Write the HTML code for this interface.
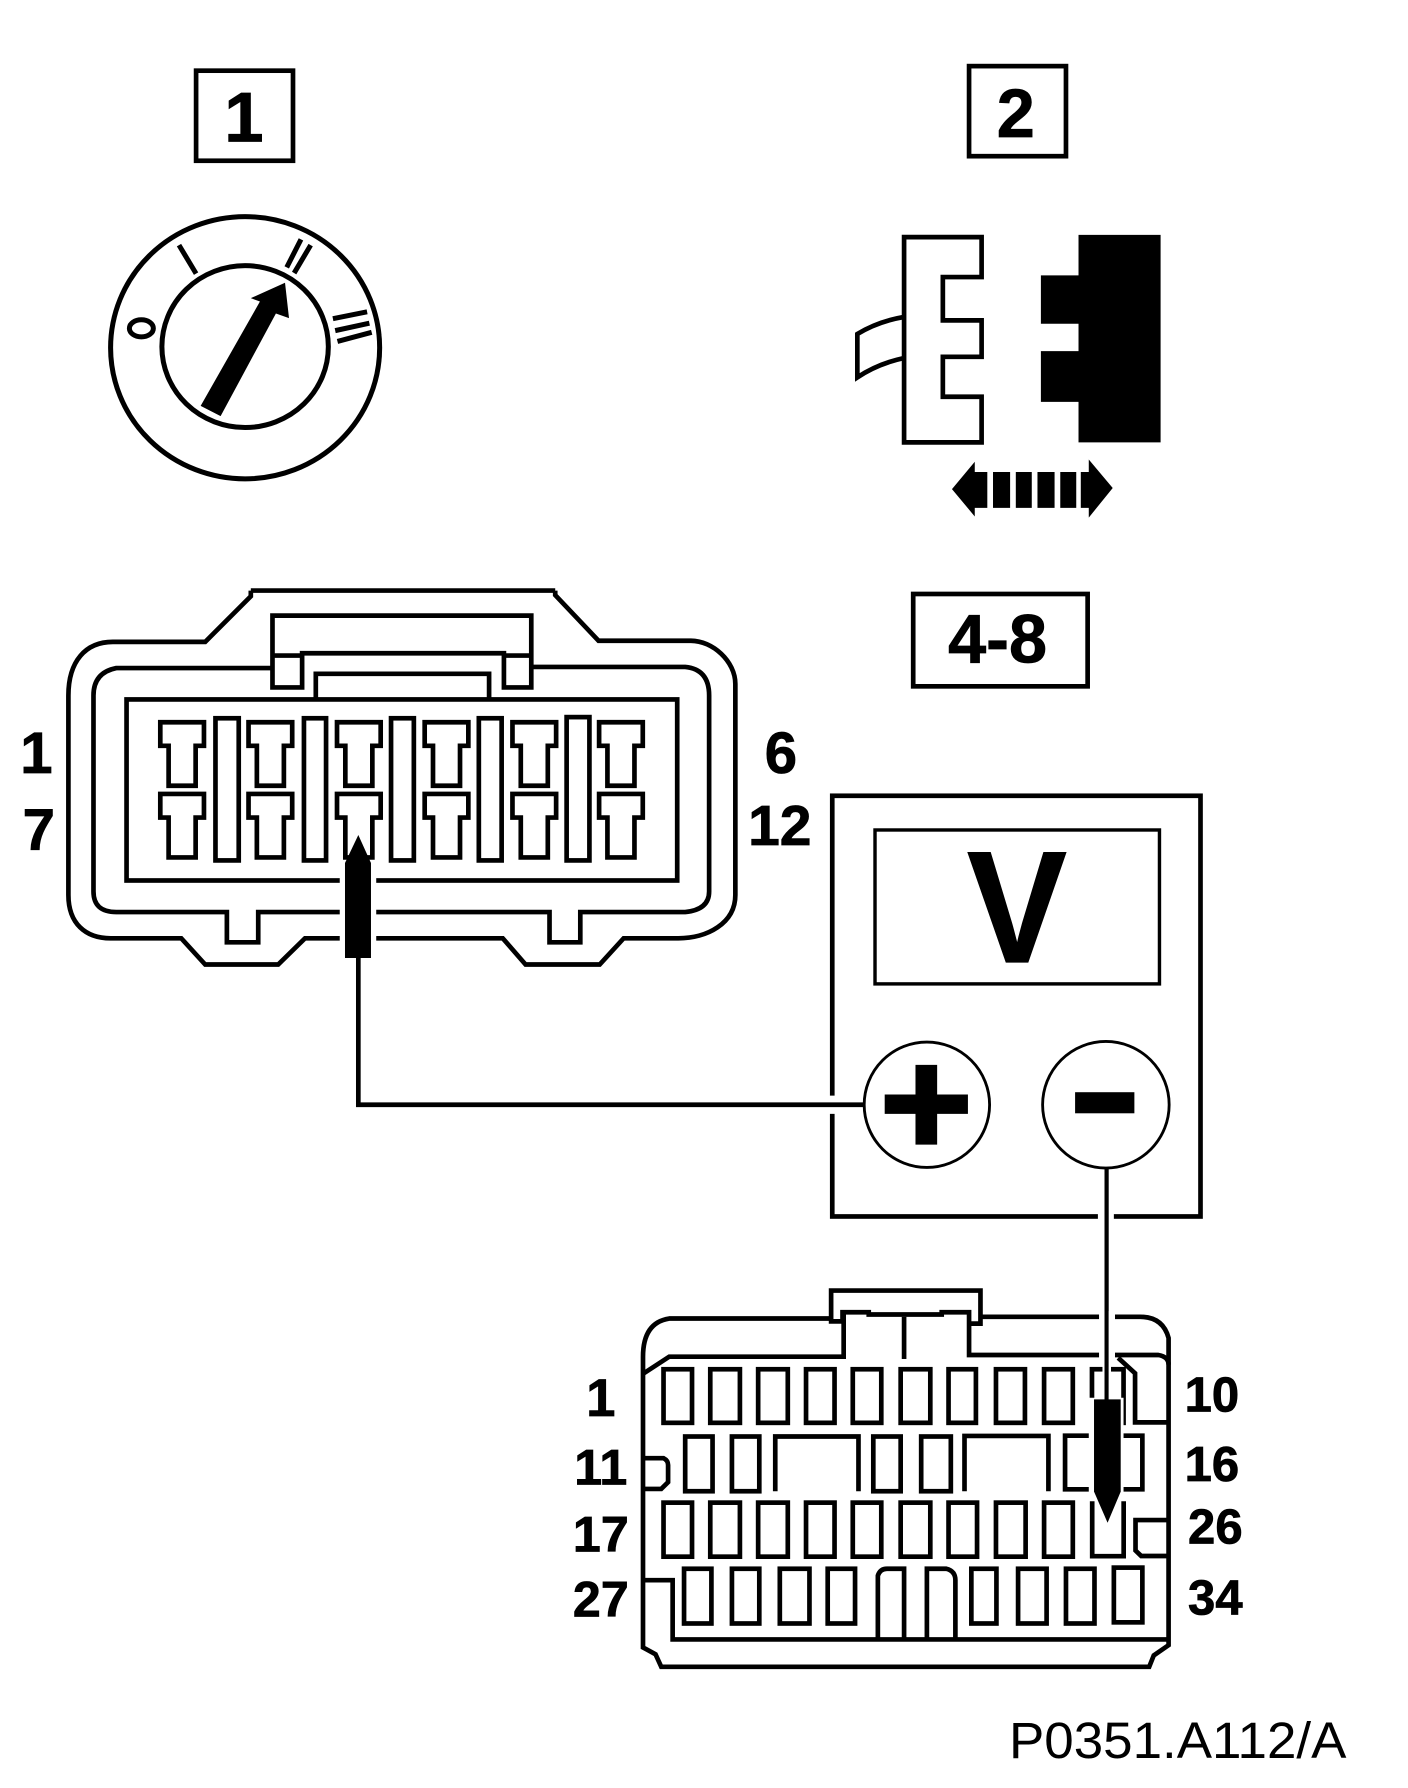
<!DOCTYPE html>
<html>
<head>
<meta charset="utf-8">
<title>P0351.A112/A</title>
<style>
html,body{margin:0;padding:0;background:#fff;width:1408px;height:1788px;overflow:hidden}
svg{display:block}
text{font-family:"Liberation Sans",sans-serif;font-weight:bold;fill:#000;stroke:#000;stroke-width:.7;text-anchor:middle}
.s{fill:none;stroke:#000;stroke-width:4.1;stroke-linejoin:miter}
.d{fill:none;stroke:#000;stroke-width:4.4}
</style>
</head>
<body>
<svg width="1408" height="1788" viewBox="0 0 1235 1568.3" xmlns="http://www.w3.org/2000/svg" preserveAspectRatio="none">
<defs>
<path id="T" d="M0,0H38.3V20.7H31V55.7H7.3V20.7H0Z" fill="none" stroke="#000" stroke-width="4.1"/>
</defs>
<rect width="1240" height="1575" fill="#fff"/>

<!-- Box 1 -->
<rect x="172" y="62" width="85" height="79" class="s"/>
<text x="214" y="124" font-size="62">1</text>

<!-- Dial -->
<ellipse cx="215" cy="305" rx="118" ry="115" class="d"/>
<ellipse cx="215" cy="304" rx="73" ry="71" class="d"/>
<polygon points="250,248 253.5,279 242,275 193.5,365 176,356 228,264.5 220,261.5" fill="#000"/>
<ellipse cx="124" cy="288" rx="10.5" ry="7.5" class="d"/>
<path d="M157,215L172,240M264,210L251.5,234.5M272.5,215L258,239.5M292,279.5L322,273.5M294,290L324,283.5M296,299.5L326,291.5" class="d"/>

<!-- Box 2 -->
<rect x="850" y="58" width="85" height="79" class="s"/>
<text x="891" y="120" font-size="60">2</text>

<!-- Plug pair -->
<path d="M793,208H861V243H827V281H861V313H827V348H861V388H793Z" class="s"/>
<path d="M793,278Q770,282 752,293V331Q770,319 793,314" class="s"/>
<path d="M946,206H1018V388H946V352.5H913V308H946V284H913V241.5H946Z" fill="#000"/>
<path d="M835,429L855,405V414H866V445.5H855V453Z M871,414H886V445.5H871Z M891,414H905V445.5H891Z M910,414H925V445.5H910Z M930,414H944V445.5H930Z M948,414H955V403L976,428L955,454V445.5H948Z" fill="#000"/>

<!-- Box 4-8 -->
<rect x="801" y="521" width="153" height="81" class="s"/>
<text x="875" y="581" font-size="60">4-8</text>

<!-- Connector 1 -->
<path d="M220,518H487M220,518V523L180,563H99C75,563 60,580 60,610V785C60,810 75,823 97,823H159L180,846H244L267.5,823H441L461,846H526L547,823H595C620,823 645,810 645,785V600C645,580 625,562 606,562H525L487,522V518" class="s"/>
<path d="M239,586H102Q82,590 82,610V782Q82,800 102,800H199V826.5H226.5V800H482V826.5H509V800H601Q622,798 622,782V610Q622,587 601,585H466" class="s"/>
<path d="M239,603V540H466V603H442V573H265V603ZM239,575H265M442,575H466" class="s"/>
<path d="M277,612V591H429V612" class="s"/>
<rect x="111" y="613.5" width="483" height="158.8" class="s"/>
<use href="#T" x="140.6" y="633.5"/><use href="#T" x="218" y="633.5"/><use href="#T" x="295.6" y="633.5"/><use href="#T" x="372.5" y="633.5"/><use href="#T" x="449.5" y="633.5"/><use href="#T" x="525.5" y="633.5"/>
<use href="#T" x="140.6" y="696.4"/><use href="#T" x="218" y="696.4"/><use href="#T" x="295.6" y="696.4"/><use href="#T" x="372.5" y="696.4"/><use href="#T" x="449.5" y="696.4"/><use href="#T" x="525.5" y="696.4"/>
<rect x="189" y="630" width="20.4" height="124.7" class="s"/>
<rect x="266.6" y="630" width="19.4" height="124.7" class="s"/>
<rect x="343" y="630" width="20" height="124.7" class="s"/>
<rect x="420" y="630" width="20" height="124.7" class="s"/>
<rect x="497" y="629" width="20" height="125.7" class="s"/>
<rect x="298" y="762" width="32" height="80" fill="#fff"/>
<polygon points="314.3,732.4 325.4,757 325.4,840.3 302.6,840.3 302.6,757" fill="#000"/>

<text x="32" y="678" font-size="51">1</text>
<text x="34" y="745" font-size="51">7</text>
<text x="685" y="678" font-size="51">6</text>
<text x="684" y="741" font-size="50">12</text>

<!-- Multimeter -->
<rect x="730" y="698" width="323" height="369" class="s"/>
<rect x="767.5" y="728" width="249.5" height="135" fill="none" stroke="#000" stroke-width="3"/>
<text x="892" y="844" font-size="140" textLength="88" lengthAdjust="spacingAndGlyphs">V</text>
<rect x="724" y="961" width="14" height="16" fill="#fff"/>
<rect x="963" y="1060" width="14" height="14" fill="#fff"/>
<path d="M314.3,838V969H758" class="s"/>
<path d="M970.6,1024V1230" fill="none" stroke="#000" stroke-width="3.6"/>
<circle cx="813" cy="969" r="55" fill="#fff" stroke="#000" stroke-width="2.5"/>
<circle cx="970" cy="969" r="55.5" fill="#fff" stroke="#000" stroke-width="2.5"/>
<path d="M776,960H803V934H822V960H849V977H822V1004H803V977H776Z" fill="#000"/>
<rect x="943" y="958" width="52" height="18.5" fill="#000"/>

<!-- Connector 2 -->
<path d="M729,1156.5H587Q564,1160 564,1190V1445L575,1451L580,1462H1008L1012,1452L1025,1443V1173.6Q1020,1155 1000,1155H861" class="s"/>
<path d="M729,1159V1132H860V1161H850V1151H826V1153H762V1151H739V1159ZM740,1151V1190H587L564,1205M850,1151V1188.5H1016Q1025,1190 1025,1197" class="s"/>
<path d="M793,1155V1192" class="s"/>
<path d="M980.8,1191L995.6,1204.5V1247.6H1025" class="s"/>

<rect x="582" y="1201" width="25" height="47" class="s"/><rect x="623" y="1201" width="26" height="47" class="s"/><rect x="665" y="1201" width="26" height="47" class="s"/><rect x="707" y="1201" width="25" height="47" class="s"/><rect x="748" y="1201" width="25" height="47" class="s"/><rect x="790" y="1201" width="26" height="47" class="s"/><rect x="832" y="1201" width="24" height="47" class="s"/><rect x="873.6" y="1201" width="25.4" height="47" class="s"/><rect x="915.8" y="1201" width="25.2" height="47" class="s"/><rect x="957.8" y="1201" width="27.7" height="47" class="s"/>
<rect x="601" y="1260" width="24" height="48" class="s"/><rect x="642" y="1260" width="24" height="48" class="s"/><path d="M680,1308V1260H753V1308" class="s"/><rect x="766" y="1260" width="24" height="48" class="s"/><rect x="808" y="1260" width="26" height="48" class="s"/><path d="M846,1308V1259.5H919.6V1308" class="s"/><path d="M960,1259.3H934.2V1306.3H1002V1259.3H980" class="s"/>
<path d="M564,1279H582Q586,1281 586,1285V1300L580,1306H564" class="s"/>
<rect x="582" y="1318" width="25" height="47.4" class="s"/><rect x="623" y="1318" width="26" height="47.4" class="s"/><rect x="665" y="1318" width="26" height="47.4" class="s"/><rect x="707" y="1318" width="25" height="47.4" class="s"/><rect x="748" y="1318" width="25" height="47.4" class="s"/><rect x="790" y="1318" width="26" height="47.4" class="s"/><rect x="832" y="1318" width="25" height="47.4" class="s"/><rect x="873.6" y="1318" width="26" height="47.4" class="s"/><rect x="915.8" y="1318" width="25.2" height="47.4" class="s"/>
<path d="M1025,1333.3H996V1360L1001,1364.8H1025" class="s"/>
<rect x="600" y="1376" width="24" height="48" class="s"/><rect x="642" y="1376" width="24" height="48" class="s"/><rect x="684" y="1376" width="26" height="48" class="s"/><rect x="726" y="1376" width="24" height="48" class="s"/>
<path d="M770,1438V1382Q772,1376 778,1376H793V1438M813,1438V1376H830Q838,1378 838,1386V1438" class="s"/>
<rect x="852" y="1376" width="22" height="48" class="s"/><rect x="893" y="1376" width="25" height="48" class="s"/><rect x="935" y="1376" width="25" height="48" class="s"/><rect x="977" y="1375" width="25" height="48" class="s"/>
<path d="M564,1386H590V1438H1025" class="s"/>

<!-- Probe 2 -->
<rect x="964" y="1150" width="14" height="45" fill="#fff"/>
<rect x="967" y="1195" width="7.5" height="33" fill="#fff"/>
<rect x="955" y="1226" width="30.5" height="86" fill="#fff"/>
<path d="M970.6,1024V1230" fill="none" stroke="#000" stroke-width="3.6"/>
<polygon points="959.6,1227.4 983,1227.4 983,1308.3 971.5,1335.6 959.6,1308.3" fill="#000"/>
<path d="M958,1316.8V1365H985.6V1316.8" class="s"/>

<text x="527" y="1242" font-size="46">1</text>
<text x="527" y="1302" font-size="44">11</text>
<text x="527" y="1361" font-size="44">17</text>
<text x="527" y="1418" font-size="44">27</text>
<text x="1063" y="1238" font-size="43">10</text>
<text x="1063" y="1299" font-size="43">16</text>
<text x="1066" y="1354" font-size="43">26</text>
<text x="1066" y="1416" font-size="43">34</text>

<text x="1033" y="1542" font-size="45" textLength="296" lengthAdjust="spacingAndGlyphs" style="font-weight:normal;stroke:none">P0351.A112/A</text>
</svg>
</body>
</html>
